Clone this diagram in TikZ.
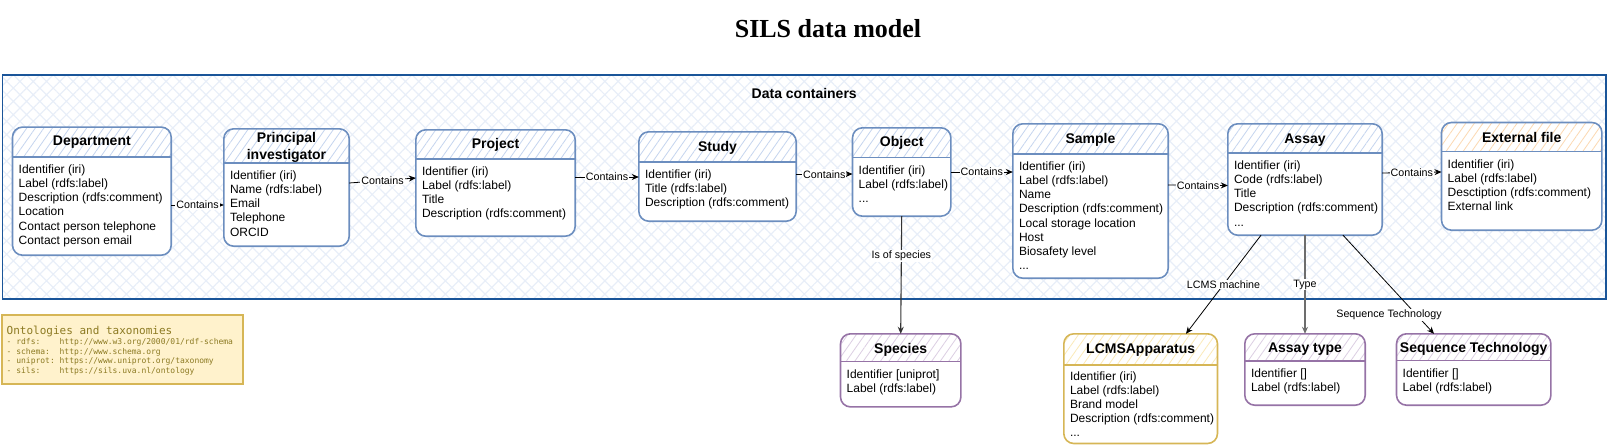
\documentclass[tikz,border=0pt]{standalone}
\usepackage{fontspec}
\setmainfont{Liberation Sans}
\setmonofont{DejaVu Sans Mono}
\newfontfamily\serifbold{Liberation Serif}
\usepackage{tikz}
\usetikzlibrary{fit,positioning}
\usetikzlibrary{patterns.meta,arrows.meta}

\definecolor{blueE}{HTML}{6C8EBF}
\definecolor{purpleE}{HTML}{9673A6}
\definecolor{goldE}{HTML}{D6B656}
\definecolor{contB}{HTML}{1A5599}
\definecolor{hatchC}{HTML}{E8EEF8}
\definecolor{hatchB}{HTML}{C5D5EF}
\definecolor{hatchP}{HTML}{DCCFE3}
\definecolor{hatchY}{HTML}{FBEAB8}
\definecolor{hatchO}{HTML}{FCD9B2}
\definecolor{noteF}{HTML}{FFF2CC}
\definecolor{noteT}{HTML}{8C7A22}
\definecolor{typeG}{HTML}{6D6D6D}
\definecolor{darkL}{HTML}{333333}

\begin{document}
\begin{tikzpicture}[x=1pt,y=-1pt]
\tikzstyle{entity}=[rectangle, rounded corners=10, fill=white, inner sep=0]
\tikzstyle{etitle}=[font=\bfseries\fontsize{14}{17}\selectfont, align=center, inner sep=0]
\tikzstyle{fields}=[anchor=north west, font=\fontsize{12}{14.1}\selectfont, align=left, inner sep=0]
\tikzstyle{connect}=[-{Stealth[length=7pt,width=6pt]}, line width=0.8]
\tikzstyle{lbl}=[font=\fontsize{10.7}{12}\selectfont, fill=white, inner sep=1]
\tikzstyle{note}=[rectangle, fill=noteF, draw=goldE, line width=1.6, inner sep=0]
\useasboundingbox (0,0) rectangle (1610,447);

	% title and container
	\node[anchor=base, font=\serifbold\bfseries\fontsize{26}{30}\selectfont] (title) at (828,37.7) {SILS data model};
	\node[fit={(2.5,75) (1606,299)}, inner sep=0, draw=contB, line width=1.8,
	      pattern={Hatch[angle=45,distance=9.4pt,line width=1.2pt]}, pattern color=hatchC] (cont) {};
	\node[font=\bfseries\fontsize{14}{16}\selectfont] (cont-t) at ([yshift=-19]cont.north) {Data containers};

	% entities
	\node[entity, fit={(12.7,127.3) (171,255)}] (dept) {};
	\node[entity, fit={(224,129) (349,246)}] (pi) {};
	\node[entity, fit={(416,130) (575,236)}] (proj) {};
	\node[entity, fit={(639,132) (796,221)}] (study) {};
	\node[entity, fit={(852.7,128) (950.7,216)}] (obj) {};
	\node[entity, fit={(1013,124) (1168,278)}] (sample) {};
	\node[entity, fit={(1228,124) (1382,235)}] (assay) {};
	\node[entity, fit={(1441.7,122.7) (1601.7,230)}] (ext) {};
	\node[entity, fit={(840.7,334) (960.7,406.7)}] (species) {};
	\node[entity, fit={(1064,334) (1217.3,443.3)}] (lcms) {};
	\node[entity, fit={(1245,334) (1365,405)}] (atype) {};
	\node[entity, fit={(1396.7,334) (1550.7,405)}] (seqtech) {};

	% headers
	\foreach \ent/\h/\bc/\hc in {dept/29.7/blueE/hatchB, pi/34/blueE/hatchB, proj/29/blueE/hatchB,
		study/30/blueE/hatchB, obj/29.7/blueE/hatchB, sample/30/blueE/hatchB, assay/29/blueE/hatchB,
		ext/29/blueE/hatchO, species/27.7/purpleE/hatchP, lcms/31/goldE/hatchY,
		atype/27/purpleE/hatchP, seqtech/26.7/purpleE/hatchP}{
		\begin{scope}
			\clip[rounded corners=10] (\ent.south west) rectangle (\ent.north east);
			\fill[pattern={Lines[angle=55,distance=7pt,line width=0.8pt]}, pattern color=\hc]
				(\ent.north west) rectangle ([yshift=-\h]\ent.north east);
		\end{scope}
		\draw[draw=\bc, line width=1.6] ([yshift=-\h]\ent.north west) -- ([yshift=-\h]\ent.north east);
		\draw[draw=\bc, line width=1.6, rounded corners=10] (\ent.south west) rectangle (\ent.north east);
	}

	\node[etitle] (dept-t) at ([yshift=-15.4]dept.north) {Department};
	\node[etitle] (pi-t) at ([yshift=-18.5]pi.north) {Principal\\investigator};
	\node[etitle] (proj-t) at ([yshift=-15]proj.north) {Project};
	\node[etitle] (study-t) at ([yshift=-16]study.north) {Study};
	\node[etitle] (obj-t) at ([yshift=-15]obj.north) {Object};
	\node[etitle] (sample-t) at ([yshift=-16]sample.north) {Sample};
	\node[etitle] (assay-t) at ([yshift=-16]assay.north) {Assay};
	\node[etitle] (ext-t) at ([yshift=-15.3]ext.north) {External file};
	\node[etitle] (species-t) at ([yshift=-16]species.north) {Species};
	\node[etitle] (lcms-t) at ([yshift=-16]lcms.north) {LCMSApparatus};
	\node[etitle] (atype-t) at ([yshift=-15]atype.north) {Assay type};
	\node[etitle] (seqtech-t) at ([yshift=-15.3]seqtech.north) {Sequence Technology};

	\node[fields] (dept-f) at ([xshift=6,yshift=-37.7]dept.north west) {Identifier (iri)\\Label (rdfs:label)\\Description (rdfs:comment)\\Location\\Contact person telephone\\Contact person email};
	\node[fields] (pi-f) at ([xshift=6,yshift=-42]pi.north west) {Identifier (iri)\\Name (rdfs:label)\\Email\\Telephone\\ORCID};
	\node[fields] (proj-f) at ([xshift=6,yshift=-37]proj.north west) {Identifier (iri)\\Label (rdfs:label)\\Title\\Description (rdfs:comment)};
	\node[fields] (study-f) at ([xshift=6,yshift=-38]study.north west) {Identifier (iri)\\Title (rdfs:label)\\Description (rdfs:comment)};
	\node[fields] (obj-f) at ([xshift=6,yshift=-37.7]obj.north west) {Identifier (iri)\\Label (rdfs:label)\\...};
	\node[fields] (sample-f) at ([xshift=6,yshift=-38]sample.north west) {Identifier (iri)\\Label (rdfs:label)\\Name\\Description (rdfs:comment)\\Local storage location\\Host\\Biosafety level\\...};
	\node[fields] (assay-f) at ([xshift=6,yshift=-37]assay.north west) {Identifier (iri)\\Code (rdfs:label)\\Title\\Description (rdfs:comment)\\...};
	\node[fields] (ext-f) at ([xshift=6,yshift=-37]ext.north west) {Identifier (iri)\\Label (rdfs:label)\\Desctiption (rdfs:comment)\\External link};
	\node[fields] (species-f) at ([xshift=6,yshift=-35.7]species.north west) {Identifier [uniprot]\\Label (rdfs:label)};
	\node[fields] (lcms-f) at ([xshift=6,yshift=-37.7]lcms.north west) {Identifier (iri)\\Label (rdfs:label)\\Brand model\\Description (rdfs:comment)\\...};
	\node[fields] (atype-f) at ([xshift=6,yshift=-35]atype.north west) {Identifier []\\Label (rdfs:label)};
	\node[fields] (seqtech-f) at ([xshift=6,yshift=-34.7]seqtech.north west) {Identifier []\\Label (rdfs:label)};

	% connectors
	\draw[connect] ([yshift=-13.85]dept.east) -- node[lbl]{Contains} ([yshift=-17.5]pi.west);
	\draw[connect] ([yshift=4.5]pi.east) -- node[lbl]{Contains} ([yshift=5]proj.west);
	\draw[connect] ([yshift=6]proj.east) -- node[lbl]{Contains} ([yshift=-0.5]study.west);
	\draw[connect] ([yshift=2]study.east) -- node[lbl]{Contains} ([yshift=-2]obj.west);
	\draw[connect] (obj.east) -- node[lbl]{Contains} ([yshift=29]sample.west);
	\draw[connect] ([yshift=16]sample.east) -- node[lbl]{Contains} ([yshift=-6]assay.west);
	\draw[connect] ([yshift=6.5]assay.east) -- node[lbl]{Contains} ([yshift=4.35]ext.west);
	\draw[connect, draw=darkL, line width=1.1] (obj.south) -- node[lbl, pos=0.336]{Is of species} (species.north);
	\draw[connect] ([xshift=-44]assay.south) -- node[lbl]{LCMS machine} ([xshift=45.35]lcms.north);
	\draw[connect, draw=typeG, line width=1.6] (assay.south) -- node[lbl]{Type} (atype.north);
	\draw[connect] ([xshift=38]assay.south) -- node[lbl, pos=0.808, xshift=-27.5]{Sequence Technology} ([xshift=-39.7]seqtech.north);

	% ontologies note
	\node[note, fit={(1.7,315) (243,384)}] (onto) {};
	\node[anchor=base west, font=\ttfamily\fontsize{11}{12}\selectfont, text=noteT, inner sep=0] (onto-t) at ([xshift=5.6,yshift=-20]onto.north west) {Ontologies and taxonomies};
	\node[anchor=north west, align=left, font=\ttfamily\fontsize{8}{9.6}\selectfont, text=noteT, inner sep=0] (onto-l) at ([yshift=-4]onto-t.base west)
		{- rdfs:~~~~http://www.w3.org/2000/01/rdf-schema\\- schema:~~http://www.schema.org\\- uniprot: https://www.uniprot.org/taxonomy\\- sils:~~~~https://sils.uva.nl/ontology};
\end{tikzpicture}
\end{document}
